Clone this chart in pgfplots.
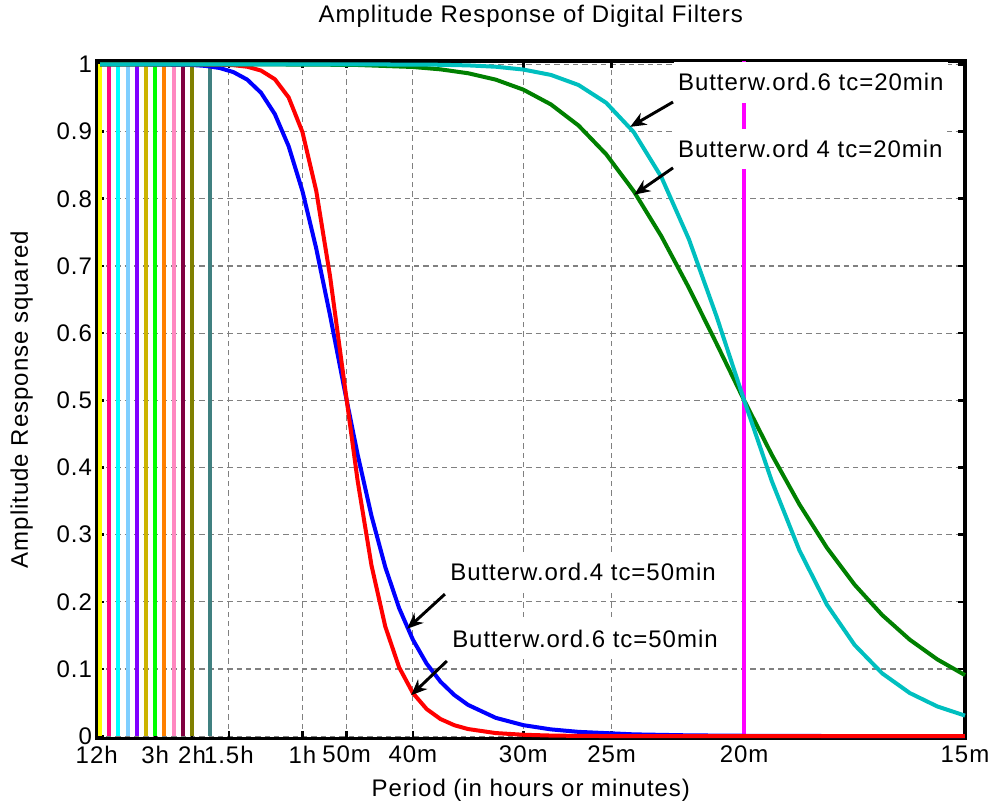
\documentclass[border=0pt]{standalone}
\usepackage{fontspec}
\setmainfont{Liberation Sans}[LetterSpace=4]
\usepackage{pgfplots}
\pgfplotsset{compat=1.18}
\usepackage{pgfplotstable}
\usetikzlibrary{arrows.meta}

\definecolor{c02}{HTML}{FFFF00}
\definecolor{c03}{HTML}{FF0A80}
\definecolor{c04}{HTML}{00FFFF}
\definecolor{c05}{HTML}{7FCFFF}
\definecolor{c06}{HTML}{8000FF}
\definecolor{c07}{HTML}{CCB400}
\definecolor{c08}{HTML}{00FF00}
\definecolor{c09}{HTML}{FF8000}
\definecolor{c10}{HTML}{FF88C0}
\definecolor{c11}{HTML}{800040}
\definecolor{c12}{HTML}{808000}
\definecolor{c14}{HTML}{408080}
\definecolor{mgreen}{HTML}{008000}
\definecolor{mcyan}{HTML}{00BFBF}
\definecolor{mmag}{HTML}{FF00FF}

% Butterworth order 4, tc = 50 min (x = frequency in cycles per hour)
\pgfplotstableread{
x y
0.08333 1.0000
0.25 1.0000
0.5 0.9991
0.5625 0.9977
0.625 0.9946
0.6875 0.9885
0.75 0.9773
0.8125 0.9577
0.875 0.9260
0.9375 0.8781
1.0 0.8113
1.0625 0.7258
1.125 0.6263
1.1875 0.5209
1.25 0.4191
1.3125 0.3281
1.375 0.2518
1.4375 0.1908
1.5 0.1437
1.5625 0.1080
1.625 0.0812
1.6875 0.0614
1.75 0.0466
1.875 0.0274
2.0 0.0165
2.125 0.0102
2.25 0.0065
2.5 0.0028
2.75 0.0013
3.0 0.0007
3.5 0.0002
4.0 0.0001
}\bfourfifty

% Butterworth order 6, tc = 50 min
\pgfplotstableread{
x y
0.08333 1.0000
0.5 1.0000
0.625 0.9996
0.6875 0.9988
0.75 0.9965
0.8125 0.9908
0.875 0.9779
0.9375 0.9508
1.0 0.8992
1.0625 0.8116
1.125 0.6845
1.1875 0.5314
1.25 0.3799
1.3125 0.2544
1.375 0.1633
1.4375 0.1027
1.5 0.0643
1.5625 0.0404
1.625 0.0256
1.6875 0.0164
1.75 0.0107
1.875 0.0047
2.0 0.0022
2.125 0.0010
2.25 0.0005
2.5 0.0001
3.0 0.0000
4.0 0.0000
}\bsixfifty

% Butterworth order 4, tc = 20 min
\pgfplotstableread{
x y
0.08333 1.0000
1.0 0.9998
1.25 0.9991
1.5 0.9961
1.625 0.9926
1.75 0.9868
1.875 0.9773
2.0 0.9624
2.125 0.9404
2.25 0.9090
2.375 0.8663
2.5 0.8113
2.625 0.7443
2.75 0.6673
2.875 0.5844
3.0 0.5000
3.125 0.4191
3.25 0.3452
3.375 0.2804
3.5 0.2256
3.625 0.1804
3.75 0.1437
3.875 0.1143
4.0 0.0910
}\bfourtwenty

% Butterworth order 6, tc = 20 min
\pgfplotstableread{
x y
0.08333 1.0000
1.5 0.9998
1.625 0.9994
1.75 0.9985
1.875 0.9965
2.0 0.9923
2.125 0.9843
2.25 0.9693
2.375 0.9429
2.5 0.8992
2.625 0.8324
2.75 0.7396
2.875 0.6250
3.0 0.5000
3.125 0.3799
3.25 0.2768
3.375 0.1957
3.5 0.1359
3.625 0.0936
3.75 0.0643
3.875 0.0443
4.0 0.0307
}\bsixtwenty

\begin{document}
\begin{tikzpicture}
\begin{axis}[
  scale only axis,
  width=651pt, height=507.75pt,
  xmin=0.0683, xmax=4, ymin=-0.003, ymax=1.005,
  clip=false,
  axis line style={line width=2.6pt, black},
  xtick={0.0683,0.333333,0.5,0.666667,1,1.2,1.5,2,2.4,3,4},
  xticklabels={12h,3h,2h,1.5h,1h,50m,40m,30m,25m,20m,15m},
  ytick={0,0.1,0.2,0.3,0.4,0.5,0.6,0.7,0.8,0.9,1},
  yticklabels={0,0.1,0.2,0.3,0.4,0.5,0.6,0.7,0.8,0.9,1},
  grid=major,
  major grid style={black!50, line width=0.9pt, dash pattern=on 4pt off 3pt},
  major tick length=5.5pt,
  tick style={black, line width=2pt},
  tick label style={font=\fontsize{18}{21}\selectfont},
  xticklabel style={yshift=-2pt},
  title={Amplitude Response of Digital Filters},
  title style={at={(axis description cs:0.5,1.054)}, anchor=center, font=\fontsize{18}{21}\selectfont},
  xlabel={Period (in hours or minutes)},
  xlabel style={at={(axis description cs:0.5,-0.0769)}, anchor=center, font=\fontsize{18}{21}\selectfont},
  ylabel={Amplitude Response squared},
  ylabel style={at={(axis description cs:-0.0864,0.5)}, anchor=center, font=\fontsize{18}{21}\selectfont},
]
\addplot[c02, line width=3pt] coordinates {(0.083333,0) (0.083333,1)};
\addplot[c03, line width=3pt] coordinates {(0.125,0) (0.125,1)};
\addplot[c04, line width=3pt] coordinates {(0.166667,0) (0.166667,1)};
\addplot[c05, line width=3pt] coordinates {(0.208333,0) (0.208333,1)};
\addplot[c06, line width=3pt] coordinates {(0.25,0) (0.25,1)};
\addplot[c07, line width=3pt] coordinates {(0.291667,0) (0.291667,1)};
\addplot[c08, line width=3pt] coordinates {(0.333333,0) (0.333333,1)};
\addplot[c09, line width=3pt] coordinates {(0.375,0) (0.375,1)};
\addplot[c10, line width=3pt] coordinates {(0.416667,0) (0.416667,1)};
\addplot[c11, line width=3pt] coordinates {(0.458333,0) (0.458333,1)};
\addplot[c12, line width=3pt] coordinates {(0.5,0) (0.5,1)};
\addplot[c14, line width=3pt] coordinates {(0.583333,0) (0.583333,1)};
\addplot[mmag, line width=2.6pt] coordinates {(3,0) (3,1.005)};

\addplot[blue, line width=3pt] table[x=x, y=y] {\bfourfifty};
\addplot[red, line width=3pt] table[x=x, y=y] {\bsixfifty};
\addplot[mgreen, line width=3pt] table[x=x, y=y] {\bfourtwenty};
\addplot[mcyan, line width=3pt] table[x=x, y=y] {\bsixtwenty};

\draw[line width=2.2pt, -{Stealth[length=12pt,width=10pt]}] (axis cs:2.678,0.944) -- (axis cs:2.484,0.907);
\draw[line width=2.2pt, -{Stealth[length=12pt,width=10pt]}] (axis cs:2.678,0.846) -- (axis cs:2.502,0.806);
\draw[line width=2.2pt, -{Stealth[length=12pt,width=10pt]}] (axis cs:1.645,0.2115) -- (axis cs:1.474,0.160);
\draw[line width=2.2pt, -{Stealth[length=12pt,width=10pt]}] (axis cs:1.654,0.112) -- (axis cs:1.492,0.061);

\node[fill=white, anchor=west, minimum height=30.5pt, inner xsep=3pt, font=\fontsize{18}{21}\selectfont] at (axis cs:2.6815,0.9734) {Butterw.ord.6 tc=20min};
\node[fill=white, anchor=west, minimum height=30.5pt, inner xsep=3pt, font=\fontsize{18}{21}\selectfont] at (axis cs:2.6815,0.874) {Butterw.ord 4 tc=20min};
\node[fill=white, anchor=west, minimum height=30.5pt, inner xsep=3pt, font=\fontsize{18}{21}\selectfont] at (axis cs:1.650,0.244) {Butterw.ord.4 tc=50min};
\node[fill=white, anchor=west, minimum height=30.5pt, inner xsep=3pt, font=\fontsize{18}{21}\selectfont] at (axis cs:1.659,0.145) {Butterw.ord.6 tc=50min};
\end{axis}
\pgfresetboundingbox
\path[use as bounding box] ([shift={(-72.5pt,-51.75pt)}]current axis.south west) rectangle ([shift={(20.25pt,45.75pt)}]current axis.north east);
\end{tikzpicture}
\end{document}
